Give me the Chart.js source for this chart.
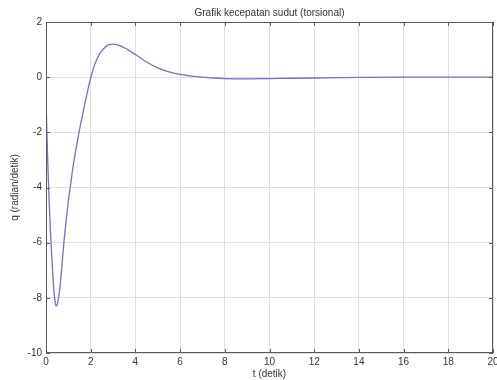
<!DOCTYPE html>
<html>
<head>
<meta charset="utf-8">
<script src="https://cdn.jsdelivr.net/npm/chart.js@4"></script>
<style>
  html, body { margin: 0; padding: 0; background: #fff; }
  #wrap { width: 497px; height: 380px; }
</style>
</head>
<body>
<div id="wrap"><canvas id="torsiChart" width="497" height="380"></canvas></div>
<script>
// waktu (detik) dan kecepatan sudut q (radian/detik)
const tValues = [0, 0.05, 0.1, 0.15, 0.2, 0.25, 0.3, 0.35, 0.4, 0.45, 0.5, 0.55, 0.6, 0.7, 0.8, 0.9, 1.0,
    1.1, 1.2, 1.3, 1.4, 1.5, 1.6, 1.7, 1.8, 1.9, 2.0, 2.2, 2.4, 2.6, 2.8, 3.0, 3.2, 3.5, 4.0, 4.5,
    5.0, 5.5, 6.0, 6.5, 7.0, 7.5, 8.0, 9.0, 10, 11, 12, 13, 14, 16, 18, 20];
const qValues = [-0.8, -2.3, -3.6, -4.7, -5.6, -6.4, -7.1, -7.7, -8.1, -8.3, -8.25, -8.05, -7.8, -6.95, -6.0, -5.2, -4.5,
    -3.9, -3.3, -2.8, -2.35, -1.9, -1.5, -1.1, -0.72, -0.36, -0.02, 0.5, 0.85, 1.05, 1.17, 1.2, 1.17, 1.07, 0.82, 0.55,
    0.34, 0.19, 0.1, 0.04, 0.0, -0.03, -0.05, -0.06, -0.05, -0.04, -0.03, -0.02, -0.01, 0, 0, 0];
const xTicks = [0, 2, 4, 6, 8, 10, 12, 14, 16, 18, 20];
const yTicks = [2, 0, -2, -4, -6, -8, -10];

const points = tValues.map((t, i) => ({ x: t, y: qValues[i] }));
const textFont = { family: 'Liberation Sans, Arial, sans-serif', size: 10, weight: 'normal' };
const textColor = '#333';

// bingkai kotak dan tanda tick ke dalam seperti gaya MATLAB
const framePlugin = {
    id: 'frame',
    afterDraw(chart) {
        const ctx = chart.ctx;
        const a = chart.chartArea;
        const xs = chart.scales.x, ys = chart.scales.y;
        ctx.save();
        ctx.strokeStyle = '#5a5a5a';
        ctx.lineWidth = 1;
        ctx.strokeRect(a.left + 0.5, a.top + 0.5, a.right - a.left - 1, a.bottom - a.top - 1);
        ctx.beginPath();
        xTicks.forEach(v => {
            const px = Math.round(xs.getPixelForValue(v)) + 0.5;
            ctx.moveTo(px, a.bottom); ctx.lineTo(px, a.bottom - 4);
            ctx.moveTo(px, a.top); ctx.lineTo(px, a.top + 4);
        });
        yTicks.forEach(v => {
            const py = Math.round(ys.getPixelForValue(v)) + 0.5;
            ctx.moveTo(a.left, py); ctx.lineTo(a.left + 4, py);
            ctx.moveTo(a.right, py); ctx.lineTo(a.right - 4, py);
        });
        ctx.stroke();
        ctx.restore();
    }
};

const ctx = document.getElementById('torsiChart').getContext('2d');
new Chart(ctx, {
    type: 'line',
    data: {
        datasets: [{
            label: 'q',
            data: points,
            borderColor: 'rgb(112, 112, 205)',
            borderWidth: 1.3,
            pointRadius: 0,
            cubicInterpolationMode: 'monotone',
            fill: false
        }]
    },
    options: {
        responsive: false,
        animation: false,
        layout: { padding: { left: 0, right: 4, top: 0, bottom: 0 } },
        plugins: {
            legend: { display: false },
            tooltip: { enabled: false },
            title: {
                display: true,
                text: 'Grafik kecepatan sudut (torsional)',
                fullSize: false,
                color: textColor,
                font: textFont,
                padding: { top: 7, bottom: 3 }
            }
        },
        scales: {
            x: {
                type: 'linear',
                min: 0,
                max: 20,
                afterBuildTicks: s => { s.ticks = xTicks.map(v => ({ value: v })); },
                ticks: { color: textColor, font: textFont, padding: 3, maxRotation: 0, autoSkip: false },
                grid: { color: '#dedede', drawTicks: false },
                border: { display: false },
                title: { display: true, text: 't (detik)', color: textColor, font: textFont, padding: { top: 2, bottom: 0 } },
                afterFit: s => { s.height = 27; s.paddingLeft = 0; s.paddingRight = 0; }
            },
            y: {
                min: -10,
                max: 2,
                afterBuildTicks: s => { s.ticks = yTicks.slice().reverse().map(v => ({ value: v })); },
                ticks: { color: textColor, font: textFont, padding: 4, autoSkip: false },
                grid: { color: '#dedede', drawTicks: false },
                border: { display: false },
                title: { display: true, text: 'q (radian/detik)', color: textColor, font: textFont, padding: { top: 9, bottom: 0 } },
                afterFit: s => { s.width = 46; s.paddingTop = 0; s.paddingBottom = 0; }
            }
        }
    },
    plugins: [framePlugin]
});
</script>
</body>
</html>
